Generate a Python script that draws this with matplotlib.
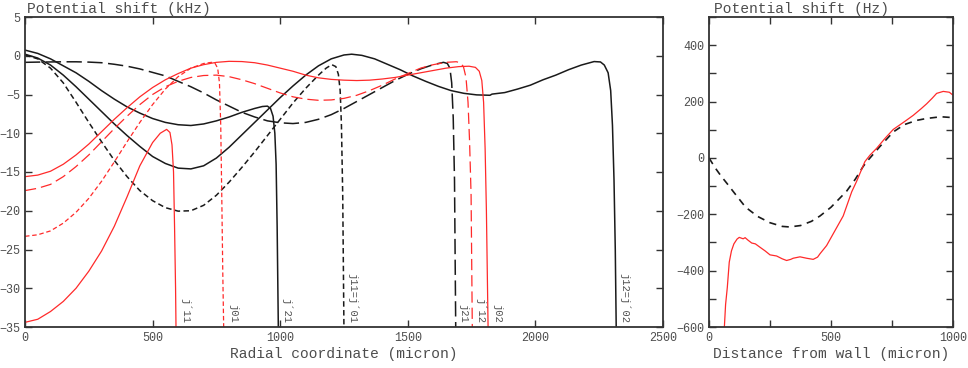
import matplotlib
matplotlib.use("Agg")
import matplotlib.pyplot as plt
from matplotlib.ticker import MultipleLocator

# ---- left panel: potential shift (kHz) vs radial coordinate (micron) ----
# black solid, ends at j'21
a_x = [0, 50, 100, 150, 200, 250, 300, 350, 400, 450, 500, 550, 600, 650, 700, 750, 800, 850, 900,
       930, 950, 962, 972, 979, 984, 988, 993]
a_y = [0.73, 0.3, -0.4, -1.3, -2.2, -3.3, -4.5, -5.6, -6.6, -7.4, -8.1, -8.6, -8.9, -9.0, -8.8, -8.4,
       -7.9, -7.3, -6.8, -6.55, -6.5, -6.8, -7.8, -10, -14, -22, -36]

# black solid, ends at j12 = j'02
b_x = [0, 50, 100, 150, 200, 250, 300, 350, 400, 450, 500, 550, 600, 650, 700, 750, 800, 850, 900,
       950, 1000, 1050, 1100, 1150, 1200, 1250, 1280, 1320, 1370, 1420, 1470, 1520, 1570, 1620, 1670,
       1720, 1770, 1822, 1830, 1880, 1930, 1980, 2030, 2080, 2130, 2180, 2230, 2255, 2270, 2285, 2295,
       2302, 2308, 2313, 2317]
b_y = [0.2, -0.3, -1.2, -2.5, -4.0, -5.6, -7.2, -8.8, -10.3, -11.7, -13.0, -13.9, -14.5, -14.6,
       -14.2, -13.2, -11.8, -10.2, -8.6, -7.0, -5.4, -3.9, -2.5, -1.3, -0.4, 0.1, 0.2, 0.05, -0.4,
       -1.1, -1.8, -2.6, -3.3, -3.95, -4.5, -4.85, -5.05, -5.1, -4.95, -4.75, -4.3, -3.8, -3.1, -2.5,
       -1.8, -1.2, -0.75, -0.8, -1.2, -2.2, -4.5, -9, -16, -25, -36]

# black short dash, ends at j11 = j'01
c_x = [0, 50, 100, 150, 200, 250, 300, 350, 400, 450, 500, 550, 600, 650, 700, 750, 800, 850, 900,
       950, 1000, 1050, 1100, 1150, 1180, 1202, 1218, 1228, 1235, 1240, 1245, 1250]
c_y = [0.1, -0.4, -1.6, -3.5, -6.0, -8.6, -11.1, -13.5, -15.6, -17.4, -18.7, -19.6, -20.05, -20.0,
       -19.3, -18.0, -16.3, -14.4, -12.4, -10.3, -8.2, -6.1, -4.2, -2.5, -1.6, -1.15, -1.4, -2.4,
       -4.5, -9, -18, -36]

# black long dash, ends at j21
d_x = [0, 50, 100, 150, 200, 250, 300, 350, 400, 450, 500, 550, 600, 650, 700, 750, 800, 850, 900,
       950, 1000, 1050, 1100, 1150, 1200, 1250, 1300, 1350, 1400, 1450, 1500, 1550, 1600, 1640, 1655,
       1665, 1672, 1678, 1683, 1688]
d_y = [-0.85, -0.82, -0.8, -0.78, -0.78, -0.82, -0.9, -1.1, -1.35, -1.7, -2.15, -2.6, -3.3, -4.0,
       -4.8, -5.7, -6.5, -7.3, -7.9, -8.4, -8.65, -8.75, -8.6, -8.2, -7.6, -6.8, -5.9, -5.0, -4.1,
       -3.2, -2.4, -1.7, -1.15, -0.85, -1.0, -1.6, -3.5, -8, -16, -36]

# red solid, ends at j'11
e_x = [0, 50, 100, 150, 200, 250, 300, 350, 400, 450, 500, 530, 555, 568, 576, 582, 586, 590, 592]
e_y = [-34.4, -34.0, -33.0, -31.7, -30.0, -27.8, -25.2, -22.0, -18.2, -14.2, -11.2, -10.0, -9.5,
       -9.9, -11.5, -15, -22, -30, -36]

# red short dash, ends at j01
f_x = [0, 50, 100, 150, 200, 250, 300, 350, 400, 450, 500, 550, 600, 650, 700, 731, 745, 755, 762,
       767, 771, 775, 779]
f_y = [-23.3, -23.1, -22.6, -21.6, -20.2, -18.4, -16.2, -13.7, -11.1, -8.6, -6.3, -4.3, -2.7, -1.6,
       -1.0, -0.85, -1.0, -1.6, -3.5, -9, -18, -28, -36]

# red long dash, ends at j'12
g_x = [0, 50, 100, 150, 200, 250, 300, 350, 400, 450, 500, 550, 600, 650, 700, 750, 800, 850, 900,
       950, 1000, 1050, 1100, 1150, 1200, 1250, 1300, 1350, 1400, 1450, 1500, 1550, 1600, 1650, 1690,
       1705, 1718, 1728, 1736, 1742, 1748, 1753]
g_y = [-17.4, -17.1, -16.6, -15.6, -14.3, -12.8, -11.1, -9.4, -7.8, -6.3, -5.0, -4.0, -3.3, -2.8,
       -2.55, -2.5, -2.7, -3.1, -3.6, -4.2, -4.8, -5.3, -5.6, -5.75, -5.7, -5.5, -5.1, -4.5, -3.8,
       -3.0, -2.3, -1.6, -1.15, -0.85, -0.77, -0.9, -1.4, -2.8, -6, -11, -18, -36]

# red solid, ends at j02
h_x = [0, 50, 100, 150, 200, 250, 300, 350, 400, 450, 500, 550, 600, 650, 700, 750, 800, 850, 900,
       950, 1000, 1050, 1100, 1150, 1200, 1250, 1300, 1350, 1400, 1450, 1500, 1550, 1600, 1650, 1700,
       1740, 1765, 1780, 1790, 1797, 1803, 1808, 1815]
h_y = [-15.6, -15.4, -14.9, -14.0, -12.8, -11.4, -9.8, -8.2, -6.7, -5.3, -4.1, -3.1, -2.3, -1.6,
       -1.15, -0.85, -0.72, -0.75, -0.9, -1.2, -1.6, -2.0, -2.5, -2.85, -3.05, -3.15, -3.2, -3.15,
       -3.0, -2.8, -2.5, -2.2, -1.9, -1.6, -1.4, -1.35, -1.5, -2.0, -3.2, -6, -12, -20, -36]

zero_x = [600, 785, 995, 1255, 1690, 1755, 1820, 2318]
zero_labels = ["j\u00b411", "j01", "j\u00b421", "j11=j\u00b401", "j21", "j\u00b412", "j02",
               "j12=j\u00b402"]

# ---- right panel: potential shift (Hz) vs distance from wall (micron) ----
wall_x = [0, 25, 50, 75, 100, 150, 200, 250, 300, 330, 375, 420, 455, 500, 564, 600, 632, 650, 700,
          755, 800, 850, 892, 950, 1000]
wall_dash = [0, -35, -65, -92, -120, -175, -208, -230, -243, -245, -240, -225, -206, -175, -118, -75,
             -30, -10, 40, 92, 118, 133, 140, 146, 143]

wall_x2 = [63, 68, 75, 83, 92, 102, 115, 124, 140, 148, 160, 175, 190, 209, 230, 250, 277, 300, 318,
           335, 345, 373, 400, 427, 445, 455, 482, 515, 550, 585, 605, 639, 660, 687, 720, 755, 800,
           837, 870, 892, 915, 933, 960, 985, 998]
wall_red = [-600, -520, -460, -370, -330, -305, -288, -282, -287, -283, -292, -302, -305, -317, -330,
            -344, -348, -358, -364, -360, -356, -351, -356, -360, -352, -340, -311, -260, -206, -120,
            -83, -13, 10, 34, 68, 101, 128, 151, 175, 192, 212, 229, 236, 233, 224]

TXT = "#4d4d4d"
RED = "#ff2a2a"
BLK = "#1a1a1a"

plt.rcParams["font.family"] = ["Liberation Mono", "DejaVu Sans Mono"]


def style_axes(ax):
    for s in ax.spines.values():
        s.set_color("#333333")
        s.set_linewidth(1.3)
    ax.tick_params(which="both", direction="in", top=True, right=True,
                   colors="#333333", labelcolor=TXT, labelsize=8.5, width=1.0, length=5)


def main():
    fig = plt.figure(figsize=(9.68, 3.68), dpi=100)
    ax1 = fig.add_axes([25 / 968, 41 / 368, 638 / 968, 310 / 368])
    ax2 = fig.add_axes([709 / 968, 41 / 368, 244 / 968, 310 / 368])

    short = (0, (3.6, 2.2))
    long_ = (0, (10, 3.6))
    ax1.plot(a_x, a_y, color=BLK, lw=1.1)
    ax1.plot(b_x, b_y, color=BLK, lw=1.1)
    ax1.plot(c_x, c_y, color=BLK, lw=1.1, linestyle=short)
    ax1.plot(d_x, d_y, color=BLK, lw=1.1, linestyle=long_)
    ax1.plot(e_x, e_y, color=RED, lw=0.9)
    ax1.plot(f_x, f_y, color=RED, lw=0.9, linestyle=short)
    ax1.plot(g_x, g_y, color=RED, lw=0.9, linestyle=(0, (9, 4)))
    ax1.plot(h_x, h_y, color=RED, lw=0.9)

    # labels of the Bessel zeros, written downwards beside each drop
    for zx, lab in zip(zero_x, zero_labels):
        ax1.text(zx + 10, -34.5, lab, rotation=-90, ha="left", va="bottom",
                 fontsize=7.5, color=TXT)

    ax1.set_xlim(0, 2500)
    ax1.set_ylim(-35, 5)
    ax1.xaxis.set_major_locator(MultipleLocator(500))
    ax1.yaxis.set_major_locator(MultipleLocator(5))
    style_axes(ax1)
    ax1.set_xlabel("Radial coordinate (micron)", fontsize=10.5, color=TXT, labelpad=2)
    ax1.text(0.003, 1.003, "Potential shift (kHz)", transform=ax1.transAxes,
             ha="left", va="bottom", fontsize=10.5, color=TXT)

    ax2.plot(wall_x, wall_dash, color=BLK, lw=1.2, linestyle=(0, (4.3, 3.4)))
    ax2.plot(wall_x2, wall_red, color=RED, lw=0.9)
    ax2.set_xlim(0, 1000)
    ax2.set_ylim(-600, 500)
    ax2.xaxis.set_major_locator(MultipleLocator(500))
    ax2.xaxis.set_minor_locator(MultipleLocator(250))
    ax2.yaxis.set_major_locator(MultipleLocator(200))
    ax2.yaxis.set_minor_locator(MultipleLocator(100))
    style_axes(ax2)
    ax2.set_xlabel("Distance from wall (micron)", fontsize=10.5, color=TXT, labelpad=2)
    ax2.text(0.02, 1.003, "Potential shift (Hz)", transform=ax2.transAxes,
             ha="left", va="bottom", fontsize=10.5, color=TXT)

    fig.savefig("out.png", dpi=100)
    plt.close(fig)


if __name__ == "__main__":
    main()
